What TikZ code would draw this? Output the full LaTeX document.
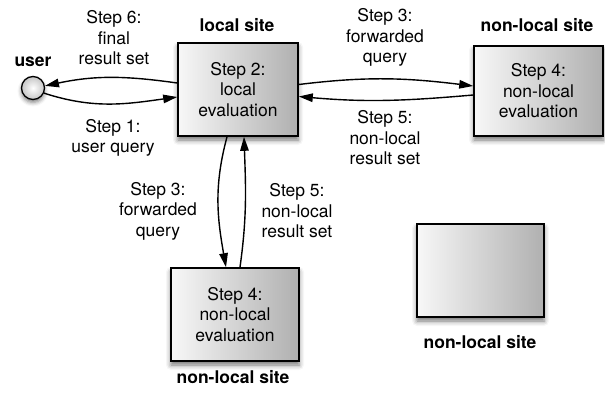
\documentclass[tikz,border=0pt]{standalone}
\usepackage{fontspec}
\setmainfont{TeX Gyre Heros}
\usetikzlibrary{arrows.meta,shadows.blur}
\begin{document}
\begin{tikzpicture}[x=1pt,y=-1pt,
  every node/.style={font=\fontsize{17.5}{20.5}\selectfont},
  site/.style={draw=black,line width=1.6pt,left color=gray!6,right color=gray!62,
    blur shadow={shadow xshift=0pt,shadow yshift=-4pt,shadow blur radius=5pt,shadow opacity=55},
    align=center,inner sep=0pt},
  lbl/.style={align=center,inner sep=0pt},
  ttl/.style={font=\fontsize{17.5}{20.5}\selectfont\bfseries,inner sep=0pt},
  arr/.style={-{Triangle[length=14pt,width=8.5pt]},line width=1.4pt}]
\useasboundingbox (0,0) rectangle (605,397);

\node[circle,draw=black,line width=1.3pt,minimum size=23pt,inner sep=0pt,
  inner color=white,outer color=gray!45,
  blur shadow={shadow xshift=0pt,shadow yshift=-3pt,shadow blur radius=4pt,shadow opacity=50}]
  (user) at (33,88) {};
\node[ttl] (userl) at (33,62) {user};

\node[site,minimum width=120pt,minimum height=93pt] (local) at (238,89.5)
  {Step 2:\\local\\evaluation};
\node[ttl] (locall) at (237,25) {local site};

\node[site,minimum width=129pt,minimum height=90pt] (remote1) at (538.5,91)
  {Step 4:\\non-local\\evaluation};
\node[ttl] (remote1l) at (537,25) {non-local site};

\node[site,minimum width=128pt,minimum height=93pt] (remote2) at (235,314.5)
  {Step 4:\\non-local\\evaluation};
\node[ttl] (remote2l) at (233,377) {non-local site};

\node[site,minimum width=127pt,minimum height=93pt] (remote3) at (480.5,270.5) {};
\node[ttl] (remote3l) at (480,342) {non-local site};

\node[lbl] (s6) at (114,38) {Step 6:\\final\\result set};
\node[lbl] (s1) at (113,138) {Step 1:\\user query};
\node[lbl] (s3h) at (385,37.5) {Step 3:\\forwarded\\query};
\node[lbl] (s5h) at (385,138) {Step 5:\\non-local\\result set};
\node[lbl] (s3v) at (158,211) {Step 3:\\forwarded\\query};
\node[lbl] (s5v) at (297,211) {Step 5:\\non-local\\result set};

\draw[arr] ([yshift=6.5pt]local.west) to[out=172,in=12] (user.10);
\draw[arr] (user.-25) to[out=-18,in=188] ([yshift=-7.5pt]local.west);
\draw[arr] ([yshift=5pt]local.east) to[out=7,in=173] ([yshift=5pt]remote1.west);
\draw[arr] ([yshift=-4pt]remote1.west) to[out=185,in=-5] ([yshift=-7pt]local.east);
\draw[arr] ([xshift=-11pt]local.south) to[out=-105,in=100] ([xshift=-9pt]remote2.north);
\draw[arr] ([xshift=5pt]remote2.north) to[out=82,in=-88] ([xshift=6pt]local.south);
\end{tikzpicture}
\end{document}
